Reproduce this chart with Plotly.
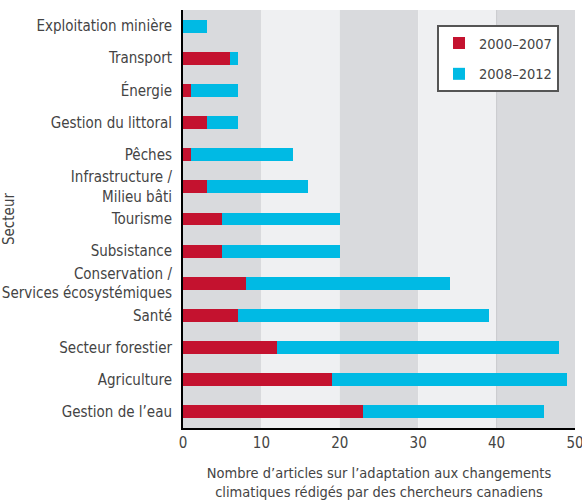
import plotly.graph_objects as go

categories = ["Exploitation minière", "Transport", "Énergie", "Gestion du littoral", "Pêches",
              "Infrastructure /<br>Milieu bâti", "Tourisme", "Subsistance",
              "Conservation /<br>Services écosystémiques", "Santé", "Secteur forestier",
              "Agriculture", "Gestion de l’eau"]
period1 = [0, 6, 1, 3, 1, 3, 5, 5, 8, 7, 12, 19, 23]
period2 = [3, 1, 6, 4, 13, 13, 15, 15, 26, 32, 36, 30, 23]
series_names = ["2000–2007", "2008–2012"]
x_ticks = [0, 10, 20, 30, 40, 50]

FONT = "DejaVu Sans Condensed, sans-serif"
TXT = "#444444"

fig = go.Figure()
fig.add_trace(go.Bar(y=categories, x=period1, orientation="h", name=series_names[0],
                     marker=dict(color="#c4122f", line=dict(width=0)), legendgroup="a"))
fig.add_trace(go.Bar(y=categories, x=period2, orientation="h", name=series_names[1],
                     marker=dict(color="#00bae4", line=dict(width=0)), legendgroup="b"))

# alternating background bands
band_cols = ["#d9dadd", "#eff0f2"]
for i in range(5):
    fig.add_shape(type="rect", xref="x", yref="paper", x0=x_ticks[i], x1=x_ticks[i + 1],
                  y0=0, y1=1, fillcolor=band_cols[i % 2], line=dict(width=0), layer="below")
fig.add_shape(type="line", xref="x", yref="paper", x0=40, x1=40, y0=0, y1=1,
              line=dict(color="#c9cacd", width=1), layer="below")

fig.update_layout(
    width=582, height=502,
    margin=dict(l=183, r=7, t=10, b=74),
    barmode="stack", bargap=0.6,
    paper_bgcolor="white", plot_bgcolor="white",
    font=dict(family=FONT, size=15, color=TXT),
    showlegend=True,
    legend=dict(x=0.648, y=0.964, xanchor="left", yanchor="top",
                bgcolor="white", bordercolor="#555555", borderwidth=2,
                traceorder="grouped", tracegroupgap=9,
                font=dict(family=FONT, size=14.5, color=TXT)),
    xaxis=dict(range=[0, 50.0001], tickvals=x_ticks, showgrid=False, zeroline=False,
               showline=True, linecolor="black", linewidth=2, ticks="",
               automargin=False, ticklabeloverflow="allow",
               tickfont=dict(size=15, color=TXT),
               title=dict(text="Nombre d’articles sur l’adaptation aux changements<br>climatiques rédigés par des chercheurs canadiens",
                          font=dict(size=14.5, color=TXT), standoff=17)),
    yaxis=dict(autorange="reversed", showgrid=False, zeroline=False,
               showline=True, linecolor="black", linewidth=2, ticks="",
               automargin=False, ticklabelstandoff=6,
               tickfont=dict(size=15, color=TXT),
               title=dict(text="Secteur", font=dict(size=15, color=TXT), standoff=2)),
)

fig.write_html("out.html", config={"displayModeBar": False},
               post_script="document.body.style.margin='0';")
